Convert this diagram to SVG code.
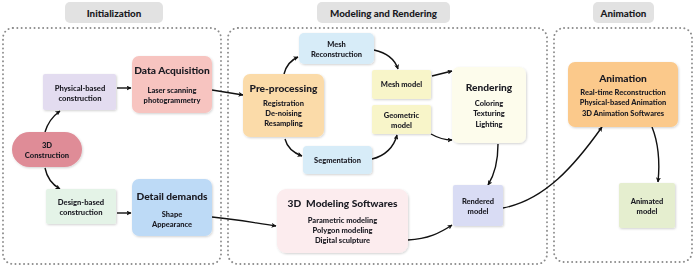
<svg xmlns="http://www.w3.org/2000/svg" width="696" height="266" viewBox="0 0 696 266">
<defs>
<style>
text{font-family:Lato,"Open Sans","Liberation Sans",sans-serif;font-weight:900;fill:#1a1a22;text-anchor:middle;dominant-baseline:central}
.hd{font-size:9.8px}
.tt{font-size:10.2px}
.bd{font-size:7.5px}
.sm{font-size:7.6px}
.cont{fill:none;stroke:#8c8c8c;stroke-width:1.9;stroke-dasharray:0.1 4.2;stroke-linecap:round}
.hbox{fill:#e2e2e2}
.nd{filter:url(#sh)}
.cn path{fill:none;stroke:#111;stroke-width:1.4;marker-end:url(#ah)}
</style>
<filter id="sh" x="-10%" y="-10%" width="125%" height="130%">
<feDropShadow dx="0.8" dy="1" stdDeviation="0.9" flood-color="#000" flood-opacity="0.18"/>
</filter>
<marker id="ah" viewBox="0 0 10 10" refX="9" refY="5" markerWidth="5" markerHeight="5" orient="auto" markerUnits="userSpaceOnUse">
<path d="M0,0 L10,5 L0,10 L2.5,5 Z" fill="#111"/>
</marker>
</defs>
<rect width="696" height="266" fill="#fff"/>

<g id="headers">
<rect class="hbox" x="65" y="2" width="98" height="21" rx="5"/>
<text class="hd" x="114" y="12.5">Initialization</text>
<rect class="hbox" x="317" y="2" width="133" height="21" rx="5"/>
<text class="hd" x="383.5" y="12.5">Modeling and Rendering</text>
<rect class="hbox" x="593" y="2" width="61" height="21" rx="5"/>
<text class="hd" x="623.5" y="12.5">Animation</text>
</g>

<g id="containers">
<rect class="cont" x="3" y="28" width="218" height="236" rx="10"/>
<rect class="cont" x="228" y="28" width="319" height="236" rx="10"/>
<rect class="cont" x="554" y="28" width="138" height="234" rx="10"/>
</g>

<g id="connectors" class="cn">
<path d="M45,132 C48,122 53,116 60,111"/>
<path d="M45,168 C47,178 53,185 60,189"/>
<path d="M117,88 L131,88"/>
<path d="M117,213 L131,213"/>
<path d="M212,90 L243,95"/>
<path d="M284,74 C286,66 291,60 298,57"/>
<path d="M374,50 C388,53 395,60 398,69"/>
<path d="M285,139 C287,147 294,153 302,156"/>
<path d="M372,159 C385,156 394,147 397,135"/>
<path d="M432,76 L452,71"/>
<path d="M431,134 C438,138 444,140 452,140"/>
<path d="M498,144 C498,160 495,174 488,185"/>
<path d="M503,208 C545,200 575,165 602,127"/>
<path d="M652,127 C658,142 660,162 658,182"/>
<path d="M212,217 C235,219 255,223 276,226"/>
<path d="M408,240 C428,239 440,233 452,225"/>
</g>

<g id="n-3d-construction" class="nd">
<rect x="12" y="132" width="70" height="35" rx="17.5" fill="#df8c97"/>
<text class="sm" x="47" y="145">3D</text>
<text class="sm" x="47" y="155">Construction</text>
</g>
<g id="n-physical" class="nd">
<rect x="43" y="74" width="73" height="36" rx="2" fill="#e3dcf0"/>
<text class="sm" x="80" y="87.5">Physical-based</text>
<text class="sm" x="80" y="98">construction</text>
</g>
<g id="n-design" class="nd">
<rect x="46" y="189" width="70" height="35" rx="2" fill="#e4f3e7"/>
<text class="sm" x="81" y="202">Design-based</text>
<text class="sm" x="81" y="212">construction</text>
</g>
<g id="n-data-acquisition" class="nd">
<rect x="132" y="56" width="80" height="57" rx="7" fill="#f7c4c0"/>
<text class="tt" x="172" y="70">Data Acquisition</text>
<text class="bd" x="172" y="90">Laser scanning</text>
<text class="bd" x="172" y="100">photogrammetry</text>
</g>
<g id="n-detail-demands" class="nd">
<rect x="132" y="179" width="80" height="57" rx="7" fill="#bddaf6"/>
<text class="tt" x="172" y="196">Detail demands</text>
<text class="bd" x="172" y="214">Shape</text>
<text class="bd" x="172" y="224">Appearance</text>
</g>

<g id="n-mesh-reconstruction" class="nd">
<rect x="299" y="33" width="75" height="31" rx="5" fill="#d7ecf8"/>
<text class="bd" x="336.5" y="44">Mesh</text>
<text class="bd" x="336.5" y="54">Reconstruction</text>
</g>
<g id="n-preprocessing" class="nd">
<rect x="243" y="74" width="81" height="63" rx="7" fill="#fbdba9"/>
<text class="tt" x="283.5" y="88">Pre-processing</text>
<text class="bd" x="283.5" y="103">Registration</text>
<text class="bd" x="283.5" y="113">De-noising</text>
<text class="bd" x="283.5" y="123">Resampling</text>
</g>
<g id="n-segmentation" class="nd">
<rect x="303" y="146" width="69" height="28" rx="4" fill="#d7ecf8"/>
<text class="bd" x="337.5" y="160.5">Segmentation</text>
</g>
<g id="n-mesh-model" class="nd">
<rect x="372" y="70" width="59" height="29" rx="2" fill="#f8f5c9"/>
<text class="bd" x="401.5" y="84.5">Mesh model</text>
</g>
<g id="n-geometric-model" class="nd">
<rect x="372" y="105" width="59" height="29" rx="2" fill="#f8f5c9"/>
<text class="bd" x="401.5" y="115">Geometric</text>
<text class="bd" x="401.5" y="125.5">model</text>
</g>
<g id="n-rendering" class="nd">
<rect x="452" y="67" width="74" height="76" rx="7" fill="#fdfcec"/>
<text class="tt" x="489" y="87">Rendering</text>
<text class="bd" x="489" y="103">Coloring</text>
<text class="bd" x="489" y="113">Texturing</text>
<text class="bd" x="489" y="124">Lighting</text>
</g>
<g id="n-3d-modeling-softwares" class="nd">
<rect x="277" y="189" width="131" height="64" rx="9" fill="#fcecee"/>
<text class="tt" x="342.5" y="203" xml:space="preserve">3D  Modeling Softwares</text>
<text class="bd" x="342.5" y="220">Parametric modeling</text>
<text class="bd" x="342.5" y="230">Polygon modeling</text>
<text class="bd" x="342.5" y="240">Digital sculpture</text>
</g>
<g id="n-rendered-model" class="nd">
<rect x="453" y="185" width="50" height="41" rx="2" fill="#d9dcf4"/>
<text class="bd" x="478" y="201">Rendered</text>
<text class="bd" x="478" y="211">model</text>
</g>

<g id="n-animation" class="nd">
<rect x="568" y="62" width="110" height="65" rx="7" fill="#fbc98b"/>
<text class="tt" x="623" y="78">Animation</text>
<text class="bd" x="623" y="92">Real-time Reconstruction</text>
<text class="bd" x="623" y="102.5">Physical-based Animation</text>
<text class="bd" x="623" y="113">3D Animation Softwares</text>
</g>
<g id="n-animated-model" class="nd">
<rect x="619" y="183" width="56" height="45" rx="2" fill="#e5eecf"/>
<text class="bd" x="647" y="201">Animated</text>
<text class="bd" x="647" y="211">model</text>
</g>
</svg>
